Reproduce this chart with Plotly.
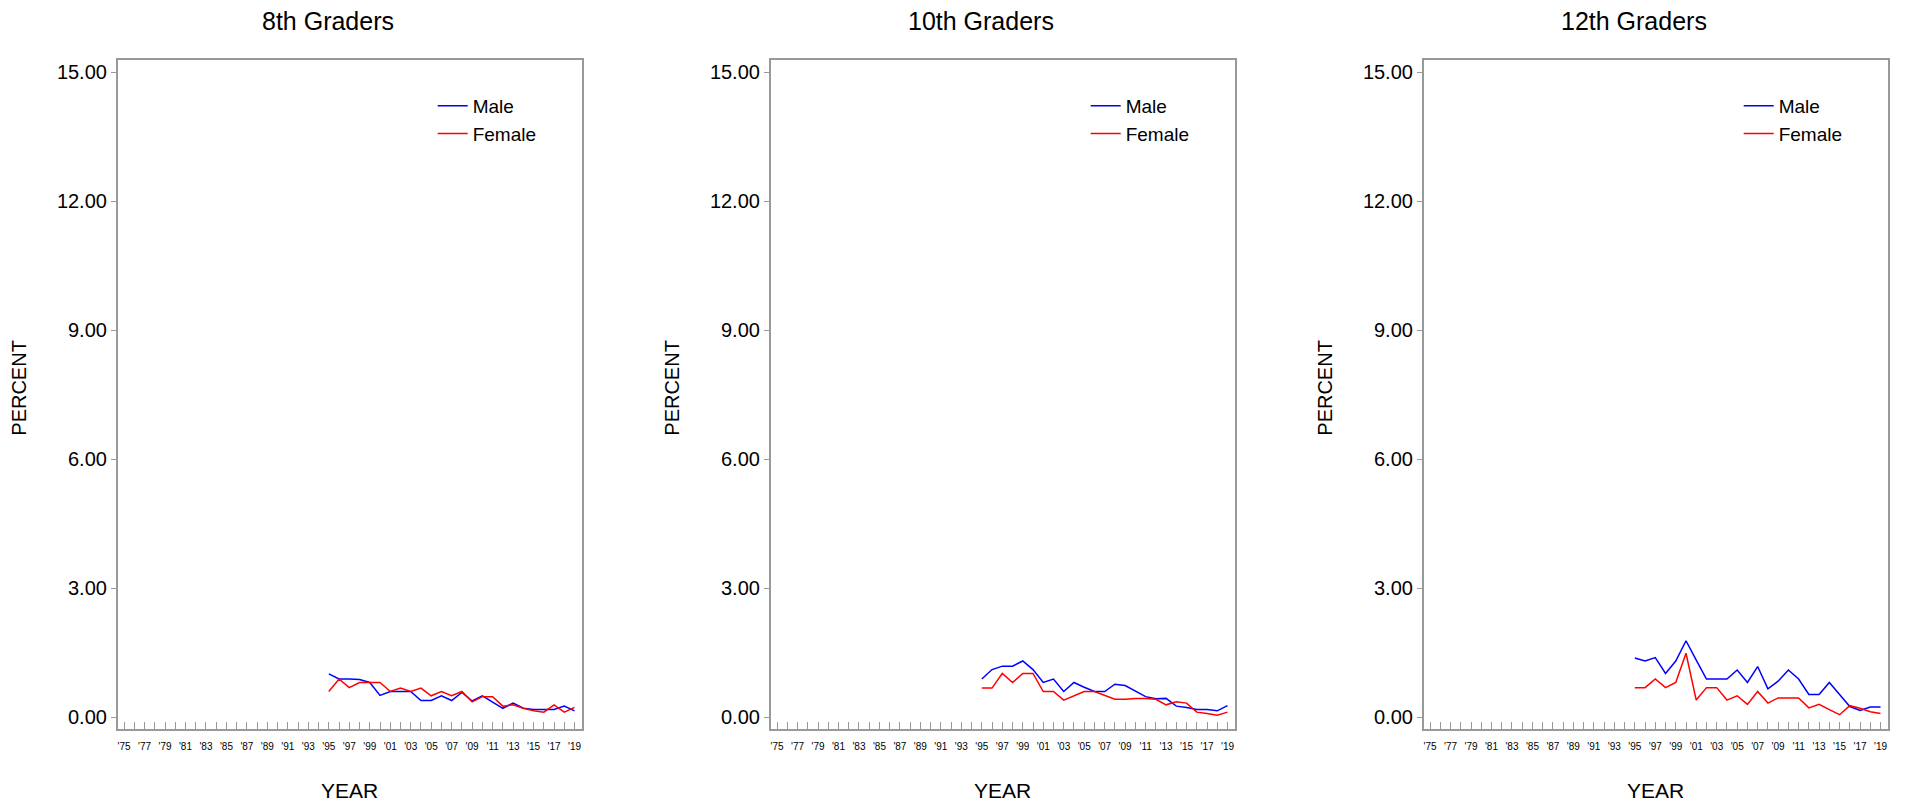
import plotly.graph_objects as go

# ---------------- data ----------------
years = list(range(1995, 2020))

male_8 = [1.01, 0.89, 0.89, 0.88, 0.81, 0.51, 0.60, 0.60, 0.60, 0.39, 0.39, 0.50, 0.39,
          0.58, 0.38, 0.50, 0.35, 0.21, 0.33, 0.21, 0.18, 0.18, 0.18, 0.26, 0.15]
female_8 = [0.60, 0.89, 0.69, 0.81, 0.81, 0.81, 0.60, 0.68, 0.60, 0.68, 0.50, 0.60, 0.50,
            0.60, 0.36, 0.48, 0.48, 0.26, 0.29, 0.21, 0.15, 0.12, 0.29, 0.12, 0.23]

male_10 = [0.89, 1.11, 1.19, 1.19, 1.31, 1.11, 0.81, 0.89, 0.60, 0.81, 0.70, 0.60, 0.60,
           0.77, 0.74, 0.60, 0.48, 0.43, 0.44, 0.26, 0.23, 0.18, 0.18, 0.15, 0.27]
female_10 = [0.68, 0.68, 1.02, 0.81, 1.02, 1.02, 0.60, 0.60, 0.40, 0.50, 0.60, 0.60, 0.51,
             0.42, 0.42, 0.44, 0.44, 0.42, 0.29, 0.36, 0.33, 0.12, 0.09, 0.05, 0.12]

male_12 = [1.38, 1.31, 1.39, 1.02, 1.31, 1.78, 1.33, 0.89, 0.89, 0.89, 1.10, 0.81, 1.18,
           0.66, 0.84, 1.10, 0.89, 0.53, 0.53, 0.81, 0.53, 0.25, 0.16, 0.24, 0.24]
female_12 = [0.69, 0.69, 0.89, 0.69, 0.81, 1.49, 0.40, 0.69, 0.69, 0.40, 0.50, 0.30, 0.60,
             0.33, 0.45, 0.45, 0.45, 0.22, 0.30, 0.18, 0.06, 0.27, 0.21, 0.13, 0.09]

panel_titles = ["8th Graders", "10th Graders", "12th Graders"]
series_names = ["Male", "Female"]
series_colors = ["#0000FF", "#FF0000"]

tick_years = list(range(1975, 2020))
tick_text = [("'" + str(y)[2:]) if (y - 1975) % 2 == 0 else "" for y in tick_years]
y_ticks = [0, 3, 6, 9, 12, 15]

panels = [(male_8, female_8), (male_10, female_10), (male_12, female_12)]

# ---------------- layout geometry (figure pixels; page has an 8px body margin) ----------------
W, H = 1915, 804
FONT = "Liberation Sans, Arial, sans-serif"
box_left = [109.7, 762.7, 1415.7]
box_w = 464.5
box_top, box_bot = 52.0, 721.0

fig = go.Figure()

for i, (m, f) in enumerate(panels):
    n = "" if i == 0 else str(i + 1)
    leg = "legend" if i == 0 else "legend" + str(i + 1)
    for vals, name, col in zip((m, f), series_names, series_colors):
        fig.add_trace(go.Scatter(
            x=years, y=vals, mode="lines", name=name,
            line=dict(color=col, width=1.5),
            xaxis="x" + n, yaxis="y" + n, legend=leg,
            showlegend=True,
        ))

    x0 = box_left[i] / W
    x1 = (box_left[i] + box_w) / W
    axcommon = dict(showgrid=False, zeroline=False, showline=True, mirror=True,
                    linecolor="#999999", linewidth=1.5, tickcolor="#999999")
    fig.layout["xaxis" + n] = dict(
        domain=[x0, x1], range=[1974.38, 2019.75], anchor="y" + n,
        tickmode="array", tickvals=tick_years, ticktext=tick_text,
        ticks="inside", ticklen=7, tickwidth=1,
        tickfont=dict(family=FONT, size=10, color="#000000"),
        ticklabelstandoff=7,
        **axcommon)
    fig.layout["yaxis" + n] = dict(
        domain=[1 - box_bot / H, 1 - box_top / H], range=[-0.272, 15.286],
        anchor="x" + n,
        tickmode="array", tickvals=y_ticks, tickformat=".2f",
        ticks="outside", ticklen=5, tickwidth=1,
        tickfont=dict(family=FONT, size=20, color="#000000"),
        **axcommon)

    fig.layout[leg] = dict(
        x=(box_left[i] + 315) / W, y=1 - 79 / H, xanchor="left", yanchor="top",
        bgcolor="rgba(0,0,0,0)", borderwidth=0,
        font=dict(family=FONT, size=19, color="#000000"),
        tracegroupgap=0,
    )

    cx = box_left[i] + box_w / 2
    fig.add_annotation(text=panel_titles[i], x=(cx - 22) / W, y=1 - 12.5 / H,
                       xref="paper", yref="paper", showarrow=False,
                       xanchor="center", yanchor="middle",
                       font=dict(family=FONT, size=25, color="#000000"))
    fig.add_annotation(text="YEAR", x=cx / W, y=1 - 782 / H,
                       xref="paper", yref="paper", showarrow=False,
                       xanchor="center", yanchor="middle",
                       font=dict(family=FONT, size=21, color="#000000"))
    fig.add_annotation(text="PERCENT", x=(box_left[i] - 99) / W, y=1 - 380 / H,
                       xref="paper", yref="paper", showarrow=False, textangle=-90,
                       xanchor="center", yanchor="middle",
                       font=dict(family=FONT, size=20, color="#000000"))

fig.update_layout(
    width=W, height=H,
    margin=dict(l=0, r=0, t=0, b=0),
    paper_bgcolor="#FFFFFF", plot_bgcolor="#FFFFFF",
    font=dict(family=FONT, color="#000000"),
)

fig.write_html("out.html")
